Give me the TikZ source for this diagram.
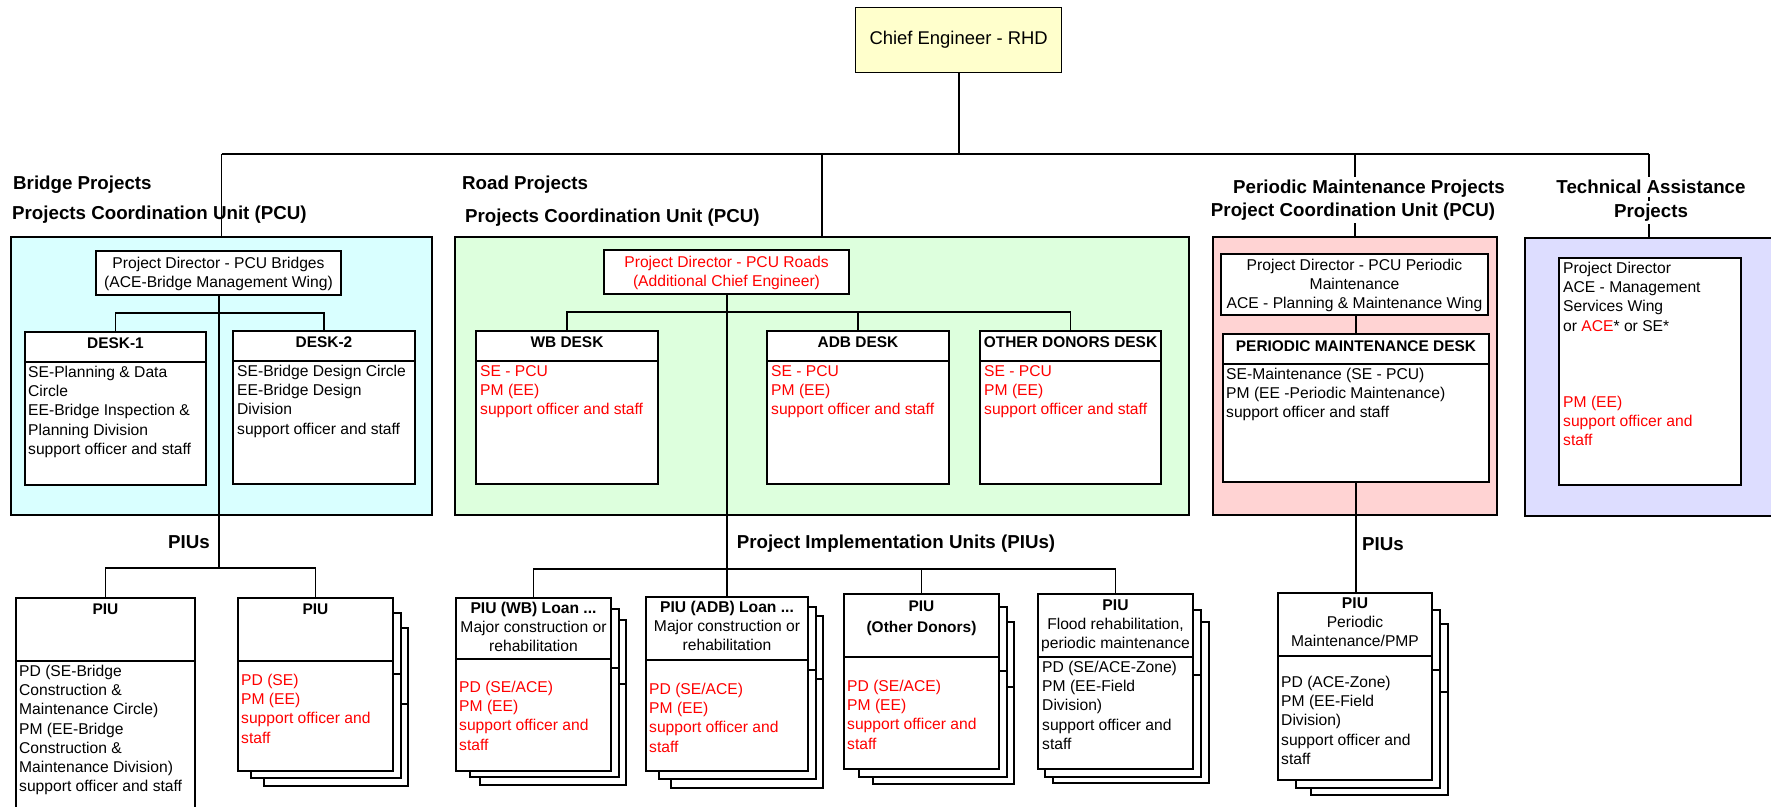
\documentclass[tikz,border=0pt]{standalone}
\usepackage{fontspec}
\setmainfont{Liberation Sans}
\definecolor{cyanbg}{HTML}{D9FFFF}
\definecolor{greenbg}{HTML}{DDFFDD}
\definecolor{pinkbg}{HTML}{FFD3D3}
\definecolor{bluebg}{HTML}{DDDDFF}
\definecolor{chiefbg}{HTML}{FFFFCC}
\definecolor{txtred}{HTML}{FF0000}
\newcommand\mkbox[6]{\node[#6, anchor=north west, minimum width={(#4-#2)*1bp}, minimum height={(#5-#3)*1bp}] (#1) at (#2,#3) {};}
\newcommand\layer[6]{\mkbox{#1}{#2}{#3}{#4}{#5}{box}\draw[boxline] (#1.west |- 0,#6) -- (#1.east |- 0,#6);}
\begin{document}
\begin{tikzpicture}[x=1bp,y=-1bp,
  boxline/.style={line width=1.3bp},
  box/.style={draw, line width=1.3bp, fill=white, inner sep=0pt, outer sep=0pt},
  panel/.style={draw, line width=1.5bp, inner sep=0pt, outer sep=0pt},
  conn/.style={line width=1.4bp},
  mainline/.style={line width=2bp},
  body/.style={font=\fontsize{15.7}{19.25}\selectfont, align=left, inner sep=0pt, anchor=north west},
  ctext/.style={font=\fontsize{15.7}{19.25}\selectfont, align=center, inner sep=0pt, anchor=north},
  hdr/.style={font=\fontsize{15.5}{19.25}\selectfont\bfseries, align=center, inner sep=0pt, anchor=north},
  big/.style={font=\fontsize{18.8}{22}\selectfont\bfseries, inner sep=0pt, anchor=base west},
  bigc/.style={font=\fontsize{18.8}{22}\selectfont\bfseries, inner sep=3pt, anchor=base, fill=white},
  red/.style={text=txtred}]
\useasboundingbox (0,0) rectangle (1771,807);

% ---- panels
\mkbox{cyan}{11}{237}{432}{515}{panel, fill=cyanbg}
\mkbox{green}{455}{237}{1189}{515}{panel, fill=greenbg}
\mkbox{pink}{1213}{237}{1497}{515}{panel, fill=pinkbg}
\mkbox{blue}{1525}{238}{1773}{516}{panel, fill=bluebg}

% ---- chief
\node[draw, line width=1.3bp, fill=chiefbg, anchor=north west, minimum width=206bp, minimum height=65bp,
      font=\fontsize{18.5}{22}\selectfont] (chief) at (855,7) {Chief Engineer - RHD};
\coordinate (bus) at (0,154);
\draw[mainline] (cyan.north |- bus) -- (blue.north |- bus);
\draw[mainline] (chief.south) -- (chief.south |- bus);
\draw[conn] (cyan.north |- bus) -- (cyan.north);
\draw[conn] (green.north |- bus) -- (green.north);
\draw[conn] (pink.north |- bus) -- (pink.north);
\draw[conn] (blue.north |- bus) -- (blue.north);

% ---- headings
\node[big] (hbridge) at (13,189.6) {Bridge Projects};
\node[big] (hbridgepcu) at (12,219.6) {Projects Coordination Unit (PCU)};
\node[big] (hroad) at (462,189.6) {Road Projects};
\node[big] (hroadpcu) at (465,222.6) {Projects Coordination Unit (PCU)};
\node[bigc] (hpm) at (1369,193.6) {Periodic Maintenance Projects};
\node[bigc] (hpmpcu) at (1353,216.6) {Project Coordination Unit (PCU)};
\node[bigc] (hta) at (1651,193.6) {Technical Assistance};
\node[bigc] (hta2) at (1651,217.6) {Projects};

% ---- bridge panel
\mkbox{bpd}{96}{251}{341}{295}{box}
\node[ctext] (bpdt) at (218.5,255) {\strut Project Director - PCU Bridges\\(ACE-Bridge Management Wing)};
\layer{desk1}{25}{332}{206}{485}{362}
\layer{desk2}{233}{331}{415}{484}{361}
\draw[conn] (desk1.north) -- ++(0,-19) -| (desk2.north);
\node[hdr] (desk1h) at (115.5,335) {\strut DESK-1};
\node[hdr] (desk2h) at (324,334) {\strut DESK-2};
\node[body] (desk1b) at (28,364) {\strut SE-Planning \& Data\\Circle\\EE-Bridge Inspection \&\\Planning Division\\support officer and staff};
\node[body] (desk2b) at (237,363) {\strut SE-Bridge Design Circle\\EE-Bridge Design\\Division\\support officer and staff};

% ---- road panel
\mkbox{rpd}{604}{250}{849}{294}{box}
\node[ctext, red] (rpdt) at (726.5,254) {\strut Project Director - PCU Roads\\(Additional Chief Engineer)};
\layer{wbd}{476}{331}{658}{484}{361}
\layer{adbd}{767}{331}{949}{484}{361}
\layer{odd}{980}{331}{1161}{484}{361}
\draw[conn] (wbd.north) -- ++(0,-19) -| (odd.north);
\draw[conn] (adbd.north) -- ++(0,-19);
\node[hdr] (wbdh) at (567,334) {\strut WB DESK};
\node[hdr] (adbdh) at (858,334) {\strut ADB DESK};
\node[hdr] (oddh) at (1070.5,334) {\strut OTHER DONORS DESK};
\node[body, red] (wbdb) at (480,363) {\strut SE - PCU\\PM (EE)\\support officer and staff};
\node[body, red] (adbdb) at (771,363) {\strut SE - PCU\\PM (EE)\\support officer and staff};
\node[body, red] (oddb) at (984,363) {\strut SE - PCU\\PM (EE)\\support officer and staff};

% ---- periodic maintenance panel
\mkbox{pmpd}{1221}{254}{1488}{315}{box}
\node[ctext] (pmpdt) at (1354.5,257) {\strut Project Director - PCU Periodic\\Maintenance\\ACE - Planning \& Maintenance Wing};
\layer{pmd}{1223}{334}{1489}{482}{364}
\draw[conn] (pmpd.south -| pmd.north) -- (pmd.north);
\node[hdr] (pmdh) at (1356,338) {\strut PERIODIC MAINTENANCE DESK};
\node[body] (pmdb) at (1226,366) {\strut SE-Maintenance (SE - PCU)\\PM (EE -Periodic Maintenance)\\support officer and staff};

% ---- technical assistance panel
\mkbox{tabox}{1559}{258}{1741}{485}{box}
\node[body] (tat) at (1563,260) {\strut Project Director\\ACE - Management\\Services Wing\\or {\color{txtred}ACE}* or SE*};
\node[body, red] (tat2) at (1563,394) {\strut PM (EE)\\support officer and\\staff};

% ---- bridge PIUs
\node[big, anchor=base] (piusb) at (189,548.6) {PIUs};
\layer{piu1}{16}{598}{195}{815}{661}
\layer{piu2c}{264}{628}{408}{786}{704}
\layer{piu2b}{251}{613}{401}{778}{674}
\layer{piu2}{238}{598}{393}{771}{661}
\draw[mainline] (bpd.south) -- (bpd.south |- 0,568);
\draw[conn] (piu1.north) -- ++(0,-30) -| (piu2.north);
\node[hdr] (piu1h) at (105.5,601) {\strut PIU};
\node[hdr] (piu2h) at (315.5,601) {\strut PIU};
\node[body] (piu1b) at (19,663) {\strut PD (SE-Bridge\\Construction \&\\Maintenance Circle)\\PM (EE-Bridge\\Construction \&\\Maintenance Division)\\support officer and staff};
\node[body, red] (piu2t) at (241,672) {\strut PD (SE)\\PM (EE)\\support officer and\\staff};

% ---- road PIUs
\node[big, anchor=base] (piusr) at (896,548.6) {Project Implementation Units (PIUs)};
\layer{wbpc}{480}{620}{626}{785}{684}
\layer{wbpb}{470}{609}{619}{777}{668}
\layer{wbp}{456}{598}{611}{771}{659}
\layer{adbpc}{671}{616}{823}{788}{679}
\layer{adbpb}{659}{607}{816}{779}{670}
\layer{adbp}{646}{597}{808}{771}{660}
\layer{odpc}{873}{622}{1014}{784}{687}
\layer{odpb}{859}{607}{1007}{777}{671}
\layer{odp}{844}{594}{999}{769}{657}
\mkbox{flpc}{1053}{622}{1209}{783}{box}
\layer{flpb}{1045}{610}{1201}{777}{675}
\layer{flp}{1038}{594}{1193}{769}{657}
\draw[mainline] (rpd.south) -- (rpd.south |- adbp.north);
\draw[conn] (wbp.north) -- ++(0,-29) -| (flp.north);
\draw[conn] (odp.north) -- ++(0,-25);
\node[ctext] (wbph) at (533.5,600) {\strut\textbf{PIU (WB) Loan ...}\\Major construction or\\rehabilitation};
\node[body, red] (wbpt) at (459,679) {\strut PD (SE/ACE)\\PM (EE)\\support officer and\\staff};
\node[ctext] (adbph) at (727,599) {\strut\textbf{PIU (ADB) Loan ...}\\Major construction or\\rehabilitation};
\node[body, red] (adbpt) at (649,681) {\strut PD (SE/ACE)\\PM (EE)\\support officer and\\staff};
\node[hdr, font=\fontsize{15.5}{21}\selectfont\bfseries] (odph) at (921.5,597) {\strut PIU\\(Other Donors)};
\node[body, red] (odpt) at (847,678) {\strut PD (SE/ACE)\\PM (EE)\\support officer and\\staff};
\node[ctext] (flph) at (1115.5,597) {\strut\textbf{PIU}\\Flood rehabilitation,\\periodic maintenance};
\node[body] (flpt) at (1042,659) {\strut PD (SE/ACE-Zone)\\PM (EE-Field\\Division)\\support officer and\\staff};

% ---- periodic maintenance PIU
\node[big] (piuspm) at (1362,550.6) {PIUs};
\layer{pmpc}{1311}{624}{1448}{795}{692}
\layer{pmpb}{1296}{610}{1440}{788}{670}
\layer{pmp}{1278}{593}{1432}{780}{656}
\draw[conn] (pmd.south) -- (pmd.south |- pmp.north);
\node[ctext] (pmph) at (1355,595) {\strut\textbf{PIU}\\Periodic\\Maintenance/PMP};
\node[body] (pmpt) at (1281,674) {\strut PD (ACE-Zone)\\PM (EE-Field\\Division)\\support officer and\\staff};
\end{tikzpicture}
\end{document}
